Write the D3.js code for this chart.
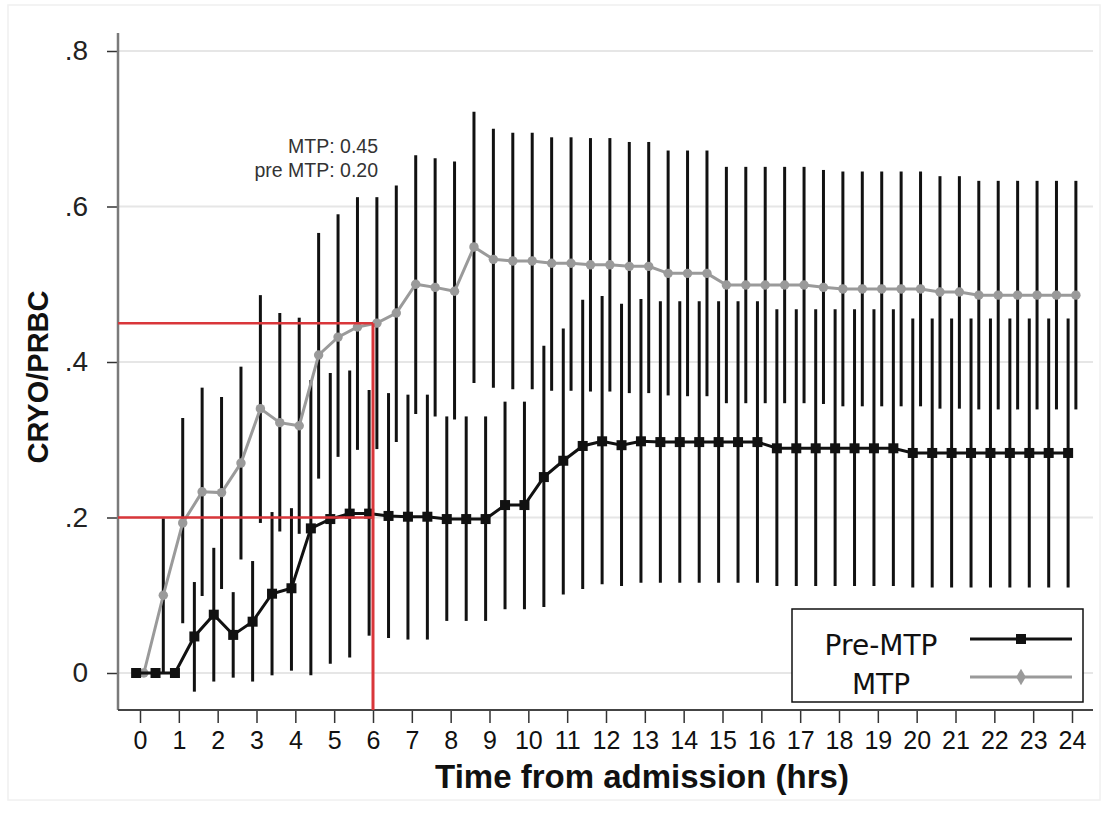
<!DOCTYPE html>
<html lang="en">
<head>
  <meta charset="UTF-8">
  <title>CRYO/PRBC</title>
  <style>
    body { margin: 0; background: #fff; }
  </style>
</head>
<body>
  <svg id="svg" width="1113" height="818"></svg>
  <script src="https://cdn.jsdelivr.net/npm/d3@7"></script>
  <script>
    // hours from admission, every half hour
    const times = [0, 0.5, 1, 1.5, 2, 2.5, 3, 3.5, 4, 4.5, 5, 5.5, 6, 6.5, 7, 7.5, 8, 8.5, 9, 9.5,
      10, 10.5, 11, 11.5, 12, 12.5, 13, 13.5, 14, 14.5, 15, 15.5, 16, 16.5, 17, 17.5, 18, 18.5, 19, 19.5,
      20, 20.5, 21, 21.5, 22, 22.5, 23, 23.5, 24]

    // Pre-MTP series (mean + CI)
    const preMean = [0, 0, 0, 0.047, 0.075, 0.049, 0.066, 0.102, 0.109, 0.186, 0.198, 0.205, 0.205, 0.202, 0.201, 0.201, 0.198, 0.198, 0.198, 0.216,
      0.216, 0.252, 0.273, 0.292, 0.298, 0.293, 0.298, 0.297, 0.297, 0.297, 0.297, 0.297, 0.297, 0.289, 0.289, 0.289, 0.289, 0.289, 0.289, 0.289,
      0.283, 0.283, 0.283, 0.283, 0.283, 0.283, 0.283, 0.283, 0.283]
    const preLow = [0, 0, 0, -0.024, -0.011, -0.006, -0.011, -0.003, 0.003, -0.003, 0.012, 0.020, 0.048, 0.045, 0.043, 0.043, 0.067, 0.067, 0.067, 0.082,
      0.082, 0.085, 0.101, 0.108, 0.114, 0.112, 0.116, 0.116, 0.116, 0.116, 0.116, 0.116, 0.116, 0.112, 0.112, 0.112, 0.112, 0.112, 0.112, 0.112,
      0.110, 0.110, 0.110, 0.110, 0.110, 0.110, 0.110, 0.110, 0.110]
    const preHigh = [0, 0, 0, 0.117, 0.161, 0.104, 0.144, 0.207, 0.212, 0.377, 0.386, 0.389, 0.364, 0.360, 0.358, 0.358, 0.330, 0.330, 0.330, 0.349,
      0.349, 0.421, 0.443, 0.480, 0.485, 0.475, 0.481, 0.478, 0.478, 0.478, 0.478, 0.478, 0.478, 0.468, 0.468, 0.468, 0.468, 0.468, 0.468, 0.468,
      0.456, 0.456, 0.456, 0.456, 0.456, 0.456, 0.456, 0.456, 0.456]

    // MTP series (mean + CI)
    const mtpMean = [0, 0.100, 0.193, 0.233, 0.232, 0.270, 0.340, 0.322, 0.318, 0.409, 0.432, 0.445, 0.450, 0.463, 0.500, 0.496, 0.491, 0.548, 0.532, 0.530,
      0.530, 0.527, 0.527, 0.525, 0.525, 0.523, 0.523, 0.514, 0.514, 0.514, 0.499, 0.499, 0.499, 0.499, 0.499, 0.496, 0.494, 0.494, 0.494, 0.494,
      0.494, 0.490, 0.490, 0.486, 0.486, 0.486, 0.486, 0.486, 0.486]
    const mtpLow = [0, 0, 0.064, 0.099, 0.108, 0.146, 0.193, 0.182, 0.179, 0.250, 0.278, 0.287, 0.288, 0.297, 0.333, 0.330, 0.326, 0.373, 0.367, 0.365,
      0.365, 0.363, 0.363, 0.362, 0.362, 0.360, 0.360, 0.357, 0.356, 0.356, 0.347, 0.347, 0.347, 0.347, 0.347, 0.346, 0.343, 0.343, 0.343, 0.343,
      0.343, 0.340, 0.340, 0.339, 0.339, 0.339, 0.339, 0.339, 0.339]
    const mtpHigh = [0, 0.199, 0.328, 0.367, 0.355, 0.394, 0.486, 0.463, 0.457, 0.566, 0.590, 0.612, 0.612, 0.627, 0.666, 0.662, 0.658, 0.722, 0.700, 0.695,
      0.695, 0.689, 0.689, 0.688, 0.688, 0.683, 0.683, 0.672, 0.672, 0.672, 0.651, 0.651, 0.651, 0.651, 0.651, 0.647, 0.645, 0.645, 0.645, 0.645,
      0.645, 0.639, 0.639, 0.633, 0.633, 0.633, 0.633, 0.633, 0.633]

    const xTicks = d3.range(0, 25)
    const yTicks = [0, 0.2, 0.4, 0.6, 0.8]
    const yTickLabels = ['0', '.2', '.4', '.6', '.8']

    // reference marks at 6 hours
    const refHour = 6
    const refValues = [0.45, 0.20]
    const refNotes = ['MTP: 0.45', 'pre MTP: 0.20']

    const legendNames = ['Pre-MTP', 'MTP']

    // plot box
    const plotLeft = 118, plotRight = 1093, plotTop = 33, plotBottom = 710
    const dodge = 0.1 // pre-MTP drawn a bit left, MTP a bit right

    const x = d3.scaleLinear().domain([0, 24]).range([140, 1072])
    const y = d3.scaleLinear().domain([0, 0.8]).range([673, 51])

    const svg = d3.select('#svg')
    svg.append('rect').attr('width', 1113).attr('height', 818).attr('fill', '#fff')
    // faint outer frame of the original picture
    svg.append('rect')
      .attr('x', 8).attr('y', 5).attr('width', 1092).attr('height', 795)
      .attr('fill', 'none').attr('stroke', '#f0f0f0').attr('stroke-width', 1.5)

    // gridlines
    svg.append('g')
      .selectAll('line')
      .data(yTicks)
      .join('line')
      .attr('x1', plotLeft).attr('x2', plotRight)
      .attr('y1', d => y(d)).attr('y2', d => y(d))
      .attr('stroke', '#e6e6e6')
      .attr('stroke-width', 2)

    // y axis
    const yAxis = svg.append('g')
      .attr('transform', `translate(${plotLeft},0)`)
      .call(d3.axisLeft(y).tickValues(yTicks).tickSize(11).tickPadding(19)
        .tickFormat((d, i) => yTickLabels[i]))
    yAxis.select('.domain').remove()
    yAxis.selectAll('.tick line').attr('stroke', '#333').attr('stroke-width', 1.5)
    yAxis.selectAll('text')
      .attr('font-family', 'Liberation Sans, Arial, sans-serif')
      .attr('font-size', 28)
      .attr('fill', '#222')
    svg.append('line')
      .attr('x1', plotLeft).attr('x2', plotLeft).attr('y1', plotTop).attr('y2', plotBottom)
      .attr('stroke', '#7a7a7a').attr('stroke-width', 2.5)

    // x axis
    const xAxis = svg.append('g')
      .attr('transform', `translate(0,${plotBottom})`)
      .call(d3.axisBottom(x).tickValues(xTicks).tickSize(13).tickPadding(8))
    xAxis.select('.domain').remove()
    xAxis.selectAll('.tick line').attr('stroke', '#333').attr('stroke-width', 1.5)
    xAxis.selectAll('text')
      .attr('font-family', 'Liberation Sans, Arial, sans-serif')
      .attr('font-size', 25)
      .attr('fill', '#111')
    svg.append('line')
      .attr('x1', plotLeft).attr('x2', plotRight).attr('y1', plotBottom).attr('y2', plotBottom)
      .attr('stroke', '#444').attr('stroke-width', 2)

    // axis titles
    svg.append('text')
      .attr('x', 642).attr('y', 788)
      .attr('text-anchor', 'middle')
      .attr('font-family', 'Liberation Sans, Arial, sans-serif')
      .attr('font-weight', 'bold')
      .attr('font-size', 33)
      .attr('fill', '#111')
      .text('Time from admission (hrs)')
    svg.append('text')
      .attr('transform', 'translate(48,377) rotate(-90)')
      .attr('text-anchor', 'middle')
      .attr('font-family', 'Liberation Sans, Arial, sans-serif')
      .attr('font-weight', 'bold')
      .attr('font-size', 29)
      .attr('fill', '#111')
      .text('CRYO/PRBC')

    const pre = times.map((t, i) => ({ t: t - dodge, m: preMean[i], lo: preLow[i], hi: preHigh[i] }))
    const mtp = times.map((t, i) => ({ t: t + dodge, m: mtpMean[i], lo: mtpLow[i], hi: mtpHigh[i] }))

    // error bars, black for both groups
    svg.append('g')
      .selectAll('line')
      .data(pre.concat(mtp))
      .join('line')
      .attr('x1', d => x(d.t)).attr('x2', d => x(d.t))
      .attr('y1', d => y(d.lo)).attr('y2', d => y(d.hi))
      .attr('stroke', '#111')
      .attr('stroke-width', 3)

    const line = d3.line().x(d => x(d.t)).y(d => y(d.m))

    // MTP line + markers
    svg.append('path')
      .datum(mtp)
      .attr('d', line)
      .attr('fill', 'none')
      .attr('stroke', '#9a9a9a')
      .attr('stroke-width', 3)
    svg.append('g')
      .selectAll('path')
      .data(mtp)
      .join('path')
      .attr('transform', d => `translate(${x(d.t)},${y(d.m)})`)
      .attr('d', d3.symbol(d3.symbolCircle, 70))
      .attr('fill', '#9a9a9a')

    // Pre-MTP line + markers
    svg.append('path')
      .datum(pre)
      .attr('d', line)
      .attr('fill', 'none')
      .attr('stroke', '#111')
      .attr('stroke-width', 3)
    svg.append('g')
      .selectAll('rect')
      .data(pre)
      .join('rect')
      .attr('x', d => x(d.t) - 5).attr('y', d => y(d.m) - 5)
      .attr('width', 10).attr('height', 10)
      .attr('fill', '#111')

    // red reference lines at 6 hrs
    const red = '#d9363a'
    svg.append('g')
      .selectAll('line')
      .data(refValues)
      .join('line')
      .attr('x1', plotLeft).attr('x2', x(refHour))
      .attr('y1', d => y(d)).attr('y2', d => y(d))
      .attr('stroke', red)
      .attr('stroke-width', 2.5)
    svg.append('line')
      .attr('x1', x(refHour)).attr('x2', x(refHour))
      .attr('y1', y(refValues[0])).attr('y2', plotBottom)
      .attr('stroke', red)
      .attr('stroke-width', 3)

    svg.append('g')
      .selectAll('text')
      .data(refNotes)
      .join('text')
      .attr('x', x(refHour) + 5)
      .attr('y', (d, i) => 153 + i * 24)
      .attr('text-anchor', 'end')
      .attr('font-family', 'Liberation Sans, Arial, sans-serif')
      .attr('font-size', 19.5)
      .attr('fill', '#333')
      .text(d => d)

    // legend
    const legend = svg.append('g')
    legend.append('rect')
      .attr('x', 792).attr('y', 609).attr('width', 291).attr('height', 93)
      .attr('fill', '#fff').attr('stroke', '#111').attr('stroke-width', 1.5)
    legend.selectAll('text')
      .data(legendNames)
      .join('text')
      .attr('x', 881)
      .attr('y', (d, i) => 655 + i * 39)
      .attr('text-anchor', 'middle')
      .attr('font-family', 'DejaVu Sans, Verdana, sans-serif')
      .attr('font-size', 28)
      .attr('fill', '#111')
      .text(d => d)
    const legendColors = ['#111', '#9a9a9a']
    legend.selectAll('line')
      .data(legendNames)
      .join('line')
      .attr('x1', 970).attr('x2', 1072)
      .attr('y1', (d, i) => 639 + i * 38).attr('y2', (d, i) => 639 + i * 38)
      .attr('stroke', (d, i) => legendColors[i])
      .attr('stroke-width', 3)
    legend.append('rect')
      .attr('x', 1016).attr('y', 634).attr('width', 10).attr('height', 10)
      .attr('fill', '#111')
    legend.append('path')
      .attr('transform', 'translate(1021,677)')
      .attr('d', d3.symbol(d3.symbolDiamond, 80))
      .attr('fill', '#9a9a9a')
  </script>
</body>
</html>
